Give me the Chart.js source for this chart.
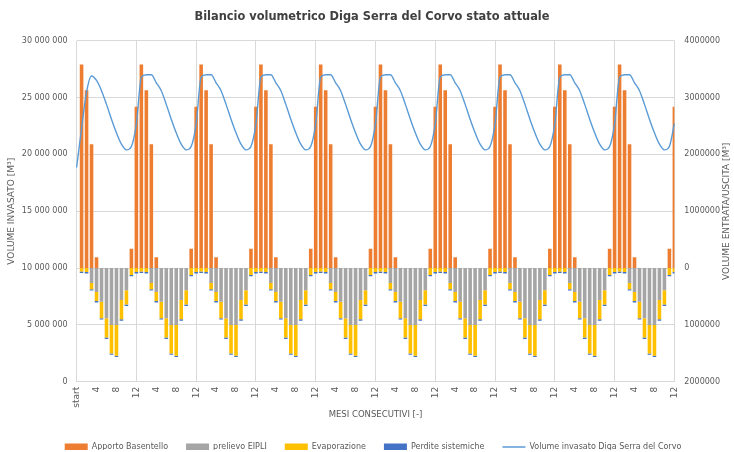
<!DOCTYPE html>
<html>
<head>
<meta charset="utf-8">
<script src="https://cdn.jsdelivr.net/npm/chart.js@4/dist/chart.umd.min.js"></script>
<style>
  body { margin: 0; background: #fff; }
  canvas { display: block; }
</style>
</head>
<body>
<canvas id="bilancio" width="734" height="452"></canvas>
<script>
// mesi consecutivi: start + 10 anni
const mesi = ['start',
  '1','2','3','4','5','6','7','8','9','10','11','12',
  '1','2','3','4','5','6','7','8','9','10','11','12',
  '1','2','3','4','5','6','7','8','9','10','11','12',
  '1','2','3','4','5','6','7','8','9','10','11','12',
  '1','2','3','4','5','6','7','8','9','10','11','12',
  '1','2','3','4','5','6','7','8','9','10','11','12',
  '1','2','3','4','5','6','7','8','9','10','11','12',
  '1','2','3','4','5','6','7','8','9','10','11','12',
  '1','2','3','4','5','6','7','8','9','10','11','12',
  '1','2','3','4','5','6','7','8','9','10','11','12'];

const apporto = [0,
  3580000, 3130000, 2180000, 190000, 0, 0, 0, 0, 0, 0, 340000, 2840000,
  3580000, 3130000, 2180000, 190000, 0, 0, 0, 0, 0, 0, 340000, 2840000,
  3580000, 3130000, 2180000, 190000, 0, 0, 0, 0, 0, 0, 340000, 2840000,
  3580000, 3130000, 2180000, 190000, 0, 0, 0, 0, 0, 0, 340000, 2840000,
  3580000, 3130000, 2180000, 190000, 0, 0, 0, 0, 0, 0, 340000, 2840000,
  3580000, 3130000, 2180000, 190000, 0, 0, 0, 0, 0, 0, 340000, 2840000,
  3580000, 3130000, 2180000, 190000, 0, 0, 0, 0, 0, 0, 340000, 2840000,
  3580000, 3130000, 2180000, 190000, 0, 0, 0, 0, 0, 0, 340000, 2840000,
  3580000, 3130000, 2180000, 190000, 0, 0, 0, 0, 0, 0, 340000, 2840000,
  3580000, 3130000, 2180000, 190000, 0, 0, 0, 0, 0, 0, 340000, 2840000];

const prelievo = [0,
  0, 0, -260000, -420000, -590000, -880000, -1000000, -1000000, -560000, -390000, 0, 0,
  0, 0, -260000, -420000, -590000, -880000, -1000000, -1000000, -560000, -390000, 0, 0,
  0, 0, -260000, -420000, -590000, -880000, -1000000, -1000000, -560000, -390000, 0, 0,
  0, 0, -260000, -420000, -590000, -880000, -1000000, -1000000, -560000, -390000, 0, 0,
  0, 0, -260000, -420000, -590000, -880000, -1000000, -1000000, -560000, -390000, 0, 0,
  0, 0, -260000, -420000, -590000, -880000, -1000000, -1000000, -560000, -390000, 0, 0,
  0, 0, -260000, -420000, -590000, -880000, -1000000, -1000000, -560000, -390000, 0, 0,
  0, 0, -260000, -420000, -590000, -880000, -1000000, -1000000, -560000, -390000, 0, 0,
  0, 0, -260000, -420000, -590000, -880000, -1000000, -1000000, -560000, -390000, 0, 0,
  0, 0, -260000, -420000, -590000, -880000, -1000000, -1000000, -560000, -390000, 0, 0];

const evaporazione = [0,
  -60000, -70000, -110000, -160000, -290000, -340000, -500000, -540000, -340000, -250000, -120000, -70000,
  -60000, -70000, -110000, -160000, -290000, -340000, -500000, -540000, -340000, -250000, -120000, -70000,
  -60000, -70000, -110000, -160000, -290000, -340000, -500000, -540000, -340000, -250000, -120000, -70000,
  -60000, -70000, -110000, -160000, -290000, -340000, -500000, -540000, -340000, -250000, -120000, -70000,
  -60000, -70000, -110000, -160000, -290000, -340000, -500000, -540000, -340000, -250000, -120000, -70000,
  -60000, -70000, -110000, -160000, -290000, -340000, -500000, -540000, -340000, -250000, -120000, -70000,
  -60000, -70000, -110000, -160000, -290000, -340000, -500000, -540000, -340000, -250000, -120000, -70000,
  -60000, -70000, -110000, -160000, -290000, -340000, -500000, -540000, -340000, -250000, -120000, -70000,
  -60000, -70000, -110000, -160000, -290000, -340000, -500000, -540000, -340000, -250000, -120000, -70000,
  -60000, -70000, -110000, -160000, -290000, -340000, -500000, -540000, -340000, -250000, -120000, -70000];

const perdite = [0,
  -25000, -25000, -25000, -25000, -25000, -25000, -25000, -25000, -25000, -25000, -25000, -25000,
  -25000, -25000, -25000, -25000, -25000, -25000, -25000, -25000, -25000, -25000, -25000, -25000,
  -25000, -25000, -25000, -25000, -25000, -25000, -25000, -25000, -25000, -25000, -25000, -25000,
  -25000, -25000, -25000, -25000, -25000, -25000, -25000, -25000, -25000, -25000, -25000, -25000,
  -25000, -25000, -25000, -25000, -25000, -25000, -25000, -25000, -25000, -25000, -25000, -25000,
  -25000, -25000, -25000, -25000, -25000, -25000, -25000, -25000, -25000, -25000, -25000, -25000,
  -25000, -25000, -25000, -25000, -25000, -25000, -25000, -25000, -25000, -25000, -25000, -25000,
  -25000, -25000, -25000, -25000, -25000, -25000, -25000, -25000, -25000, -25000, -25000, -25000,
  -25000, -25000, -25000, -25000, -25000, -25000, -25000, -25000, -25000, -25000, -25000, -25000,
  -25000, -25000, -25000, -25000, -25000, -25000, -25000, -25000, -25000, -25000, -25000, -25000];

const volumeInvasato = [18850000,
  22300000, 25500000, 26900000, 26500000, 25600000, 24400000, 23100000, 21900000, 20900000, 20400000, 20700000, 22700000,
  26800000, 27000000, 27000000, 26300000, 25600000, 24400000, 23100000, 21900000, 20900000, 20400000, 20700000, 22700000,
  26800000, 27000000, 27000000, 26300000, 25600000, 24400000, 23100000, 21900000, 20900000, 20400000, 20700000, 22700000,
  26800000, 27000000, 27000000, 26300000, 25600000, 24400000, 23100000, 21900000, 20900000, 20400000, 20700000, 22700000,
  26800000, 27000000, 27000000, 26300000, 25600000, 24400000, 23100000, 21900000, 20900000, 20400000, 20700000, 22700000,
  26800000, 27000000, 27000000, 26300000, 25600000, 24400000, 23100000, 21900000, 20900000, 20400000, 20700000, 22700000,
  26800000, 27000000, 27000000, 26300000, 25600000, 24400000, 23100000, 21900000, 20900000, 20400000, 20700000, 22700000,
  26800000, 27000000, 27000000, 26300000, 25600000, 24400000, 23100000, 21900000, 20900000, 20400000, 20700000, 22700000,
  26800000, 27000000, 27000000, 26300000, 25600000, 24400000, 23100000, 21900000, 20900000, 20400000, 20700000, 22700000,
  26800000, 27000000, 27000000, 26300000, 25600000, 24400000, 23100000, 21900000, 20900000, 20400000, 20700000, 22700000];

Chart.defaults.font.family = '"DejaVu Sans", sans-serif';
Chart.defaults.font.size = 8;
Chart.defaults.color = '#595959';

// titolo dell'asse destro, letto dal basso verso l'alto come in Excel
const titoloDestro = {
  id: 'titoloDestro',
  afterDraw(chart) {
    const ctx = chart.ctx;
    const area = chart.chartArea;
    ctx.save();
    ctx.translate(chart.width - 7, (area.top + area.bottom) / 2);
    ctx.rotate(-Math.PI / 2);
    ctx.font = '9px "DejaVu Sans"';
    ctx.fillStyle = '#595959';
    ctx.textAlign = 'center';
    ctx.textBaseline = 'middle';
    ctx.fillText('VOLUME ENTRATA/USCITA [M³]', 0, 0);
    ctx.restore();
  }
};

// legenda più vicina al bordo inferiore, titolo e legenda centrati sul grafico
const legendaBassa = {
  id: 'legendaBassa',
  beforeUpdate(chart) {
    const lg = chart.legend;
    if (lg && !lg._abbassata) {
      const fit = lg.fit;
      lg.fit = function () { fit.call(this); this.height -= 11; };
      lg._abbassata = true;
    }
  },
  afterLayout(chart) {
    chart.legend.left += 8;
    chart.legend.right += 8;
    chart.titleBlock.left += 7;
    chart.titleBlock.right += 7;
  }
};

const bilancio = document.getElementById('bilancio');

new Chart(bilancio, {
  type: 'bar',
  data: {
    labels: mesi,
    datasets: [
      { label: 'Apporto Basentello', data: apporto, backgroundColor: '#ED7D31', yAxisID: 'y1', order: 1 },
      { label: 'prelievo EIPLI', data: prelievo, backgroundColor: '#A5A5A5', yAxisID: 'y1', order: 1 },
      { label: 'Evaporazione', data: evaporazione, backgroundColor: '#FFC000', yAxisID: 'y1', order: 1 },
      { label: 'Perdite sistemiche', data: perdite, backgroundColor: '#4472C4', yAxisID: 'y1', order: 1 },
      {
        type: 'line',
        label: 'Volume invasato Diga Serra del Corvo',
        data: volumeInvasato,
        borderColor: '#5B9BD5',
        backgroundColor: '#5B9BD5',
        borderWidth: 1.4,
        pointRadius: 0,
        cubicInterpolationMode: 'monotone',
        yAxisID: 'y',
        order: 0
      }
    ]
  },
  options: {
    responsive: false,
    animation: false,
    layout: { padding: { left: 0, right: 4, top: 0, bottom: 2 } },
    datasets: { bar: { barPercentage: 0.9, categoryPercentage: 0.8 } },
    plugins: {
      title: {
        display: true,
        text: 'Bilancio volumetrico Diga Serra del Corvo stato attuale',
        color: '#404040',
        font: { size: 11.4, weight: 'bold' },
        padding: { top: 10, bottom: 17 }
      },
      legend: {
        position: 'bottom',
        labels: {
          usePointStyle: true,
          pointStyleWidth: 23,
          boxHeight: 7,
          padding: 18,
          sort: (a, b) => a.datasetIndex - b.datasetIndex,
          generateLabels(chart) {
            const items = Chart.defaults.plugins.legend.labels.generateLabels(chart);
            items.forEach(it => {
              if (it.datasetIndex === 4) {
                it.pointStyle = 'line';
                it.lineWidth = 1.5;
              } else {
                it.pointStyle = 'rect';
                it.lineWidth = 0;
              }
            });
            return items;
          }
        }
      },
      tooltip: { enabled: false }
    },
    scales: {
      x: {
        stacked: true,
        offset: false,
        grid: {
          offset: false,
          drawTicks: false,
          color: c => (c.index % 12 === 0 ? '#D9D9D9' : 'rgba(0,0,0,0)')
        },
        border: { display: false },
        ticks: {
          autoSkip: false,
          minRotation: 90,
          maxRotation: 90,
          padding: 5,
          font: { size: 9 },
          callback: (v, i) => (i % 4 === 0 ? mesi[i] : '')
        },
        title: { display: true, text: 'MESI CONSECUTIVI [-]', font: { size: 8.5 }, padding: { top: -3, bottom: 5 } }
      },
      y: {
        position: 'left',
        min: 0,
        max: 30000000,
        grid: { color: '#D9D9D9', drawTicks: false },
        border: { display: false },
        ticks: {
          stepSize: 5000000,
          padding: 9,
          callback: v => String(v).replace(/\B(?=(\d{3})+(?!\d))/g, ' ')
        },
        title: { display: true, text: 'VOLUME INVASATO [M³]', font: { size: 9 }, padding: { top: 6, bottom: -4 } }
      },
      y1: {
        position: 'right',
        stacked: true,
        min: -2000000,
        max: 4000000,
        grid: { display: false, drawTicks: false },
        border: { display: false },
        ticks: {
          stepSize: 1000000,
          padding: 10,
          callback: v => String(Math.abs(v))
        }
      }
    }
  },
  plugins: [titoloDestro, legendaBassa]
});
</script>
</body>
</html>
